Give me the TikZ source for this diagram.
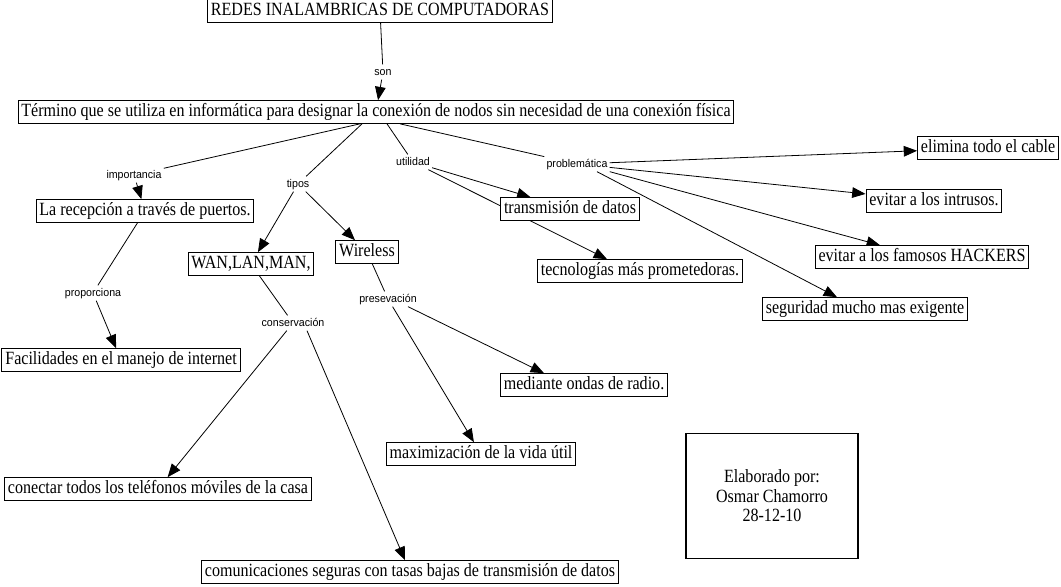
\documentclass[tikz,border=0pt]{standalone}
\usepackage{fontspec}
\setmainfont{Liberation Serif}[FakeStretch=0.86]
\newfontfamily\lblfont{Liberation Sans}[FakeStretch=0.95]
\usetikzlibrary{arrows.meta,calc}
\pgfdeclarelayer{background}
\pgfsetlayers{background,main}
\begin{document}
\begin{tikzpicture}[x=0.75pt,y=-0.75pt,
  box/.style={draw, line width=0.75pt, fill=white, font=\fontsize{14}{16}\selectfont,
    inner xsep=2.5pt, inner ysep=2pt, text height=10pt, text depth=3pt},
  lbl/.style={font=\lblfont\fontsize{8.4}{10}\selectfont, inner sep=1.5pt,
    text height=6.3pt, text depth=1.8pt},
  conn/.style={line width=0.6pt},
  arr/.style={conn, -{Triangle[length=10pt,width=8pt]}}]
\useasboundingbox (0,0) rectangle (1061,586);

% boxes
\node[box] (title) at (380,11) {REDES INALAMBRICAS DE COMPUTADORAS};
\node[box] (main) at (376,112) {Término que se utiliza en informática para designar la conexión de nodos sin necesidad de una conexión física};
\node[box] (recep) at (145,211) {La recepción a través de puertos.};
\node[box] (facil) at (121,360) {Facilidades en el manejo de internet};
\node[box] (wan) at (251,264) {WAN,LAN,MAN,};
\node[box] (wire) at (367,252) {Wireless};
\node[box] (trans) at (570,209) {transmisión de datos};
\node[box] (tecno) at (640,271) {tecnologías más prometedoras.};
\node[box] (elim) at (988,148) {elimina todo el cable};
\node[box] (intru) at (934,201) {evitar a los intrusos.};
\node[box] (hack) at (922,257) {evitar a los famosos HACKERS};
\node[box] (segu) at (865,309) {seguridad mucho mas exigente};
\node[box] (medi) at (584,385) {mediante ondas de radio.};
\node[box] (maxi) at (481,454) {maximización de la vida útil};
\node[box] (cone) at (158,489) {conectar todos los teléfonos móviles de la casa};
\node[box] (comu) at (410,572) {comunicaciones seguras con tasas bajas de transmisión de datos};
\node[draw, line width=0.9pt, fill=white, minimum width=129pt, minimum height=94pt,
  align=center, font=\fontsize{14}{14.6}\selectfont] (elab) at (772,496)
  {Elaborado por:\\Osmar Chamorro\\28-12-10};

% labels
\node[lbl] (son) at (383,72) {son};
\node[lbl] (imp) at (134,175) {importancia};
\node[lbl] (tipos) at (298,184) {tipos};
\node[lbl] (util) at (413,162) {utilidad};
\node[lbl] (prob) at (577,164) {problemática};
\node[lbl] (prop) at (93,293) {proporciona};
\node[lbl] (cons) at (293,323) {conservación};
\node[lbl] (pres) at (388,299) {presevación};

% connectors
\begin{pgfonlayer}{background}
\fill[white] (0,0) rectangle (1061,586);
\draw[conn] (title) -- (son);
\draw[arr] (son) -- (main);
\draw[conn] ($(main.south)+(-16,0)$) -- (imp);
\draw[arr] (imp) -- (recep);
\draw[conn] ($(main.south)+(-14,0)$) -- (tipos);
\draw[arr] (tipos) -- (wan);
\draw[arr] (tipos) -- (wire);
\draw[conn] ($(main.south)+(11,0)$) -- (util);
\draw[conn] ($(main.south)+(24,0)$) -- (prob);
\draw[arr] (util) -- (trans);
\draw[arr] (util) -- ($(tecno.north)+(-33,0)$);
\draw[arr] (prob) -- (elim);
\draw[arr] (prob) -- (intru);
\draw[arr] (prob.south east) -- ($(hack.north)+(-42,0)$);
\draw[arr] ($(prob.south)+(20,0)$) -- ($(segu.north)+(-28,0)$);
\draw[conn] (recep) -- (prop);
\draw[arr] (prop) -- (facil);
\draw[conn] (wan) -- (cons);
\draw[arr] (cons) -- (cone);
\draw[arr] ($(cons.south)+(14,0)$) -- (comu);
\draw[conn] (wire) -- (pres);
\draw[arr] ($(pres.south)+(20,0)$) -- ($(medi.north)+(-40,0)$);
\draw[arr] (pres) -- (maxi);
\end{pgfonlayer}
\end{tikzpicture}
\end{document}
